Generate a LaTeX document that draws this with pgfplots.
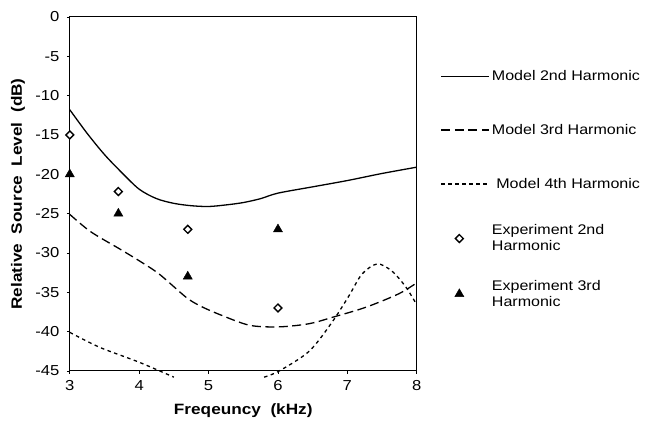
\documentclass[border=0pt]{standalone}
\usepackage{fontspec}
\setmainfont{Liberation Sans}[FakeStretch=1.15]
\usepackage{pgfplots}
\pgfplotsset{compat=1.18}
\pgfplotsset{
  lineleg/.style={legend image code/.code={\draw[##1] (0pt,0pt) -- (48pt,0pt); \path[draw=none, fill=none] (0pt,-15pt) rectangle (0pt,15pt);}},
  markleg/.style={legend image code/.code={\draw[mark repeat=2,mark phase=2,##1] plot coordinates {(0pt,0pt) (18pt,0pt) (48pt,0pt)};}},
}
\begin{document}
\begin{tikzpicture}
\begin{axis}[
  scale only axis, width=348pt, height=355pt,
  xmin=3, xmax=8, ymin=-45, ymax=0,
  xtick={3,4,5,6,7,8}, ytick={-45,-40,-35,-30,-25,-20,-15,-10,-5,0},
  /pgf/number format/assume math mode=true,
  tick label style={font=\fontsize{14.5}{16}\selectfont},
  yticklabel style={xshift=-4pt},
  xticklabel style={yshift=-3pt},
  tick pos=left, tick align=outside, major tick length=3pt,
  axis line style={line width=1.1pt},
  every tick/.style={black, line width=0.6pt},
  clip=false,
  xlabel={\textbf{Freqeuncy\ \ (kHz)}},
  ylabel={\textbf{Relative\ \ Source\ \ Level\ \ (dB)}},
  every axis x label/.style={at={(axis description cs:0.5,-0.113)}, anchor=center, font=\fontsize{15}{18}\selectfont},
  every axis y label/.style={at={(axis description cs:-0.149,0.5)}, anchor=center, rotate=90, font=\fontsize{15}{18}\selectfont},
  legend style={at={(axis description cs:1.06,0.881)}, anchor=north west, draw=none, fill=none,
    font=\fontsize{14}{16}\selectfont, row sep=24pt, cells={align=left}},
  legend cell align=left,
]
\addplot[black, line width=1.3pt, smooth, tension=0.5, lineleg]
  coordinates {(3,-11.8) (3.25,-14.8) (3.5,-17.5) (3.75,-19.8) (4,-21.9) (4.25,-23.1) (4.5,-23.7) (4.75,-24.0) (5,-24.1) (5.25,-23.9) (5.5,-23.6) (5.75,-23.1) (6,-22.4) (6.5,-21.6) (7,-20.8) (7.5,-19.9) (8,-19.1)};
\addlegendentry{Model 2nd Harmonic}
\addplot[black, line width=1.3pt, dash pattern=on 9pt off 4.5pt, smooth, tension=0.5, lineleg]
  coordinates {(3,-25.1) (3.3,-27.3) (3.72,-29.5) (4,-31) (4.29,-32.7) (4.67,-35.6) (4.87,-36.7) (5.15,-37.8) (5.59,-39.2) (6.02,-39.4) (6.45,-39.0) (6.78,-38.2) (7.27,-36.9) (7.74,-35.2) (8,-33.8)};
\addlegendentry{Model 3rd Harmonic}
\addplot[black, line width=1.3pt, dash pattern=on 3.5pt off 3.5pt, smooth, tension=0.5, lineleg]
  coordinates {(3,-40.1) (3.43,-42) (4,-43.9) (4.5,-45.8)};
\addlegendentry{\ Model 4th Harmonic}
\addplot[black, line width=1.3pt, dash pattern=on 3.5pt off 3.5pt, smooth, tension=0.5, forget plot]
  coordinates {(5.8,-45.8) (6.02,-45.0) (6.45,-42.5) (6.78,-38.8) (7.02,-35.5) (7.21,-32.7) (7.43,-31.4) (7.64,-32.3) (7.84,-34.3) (8,-36.6)};
\addplot[only marks, mark=square*, mark size=2.8pt, mark options={rotate=45, fill=white, draw=black, line width=1.4pt}, markleg]
  coordinates {(3,-15) (3.7,-22.2) (4.7,-27) (6,-37)};
\addlegendentry{Experiment 2nd\\Harmonic}
\addplot[only marks, mark=triangle*, mark size=5.3pt, mark options={fill=black, draw=black}, markleg]
  coordinates {(3,-20) (3.7,-25) (4.7,-33) (6,-27)};
\addlegendentry{Experiment 3rd\\Harmonic}
\end{axis}
\path (current axis.south west) ++(-70pt,-55pt) rectangle ++(645pt,427pt);
\end{tikzpicture}
\end{document}
